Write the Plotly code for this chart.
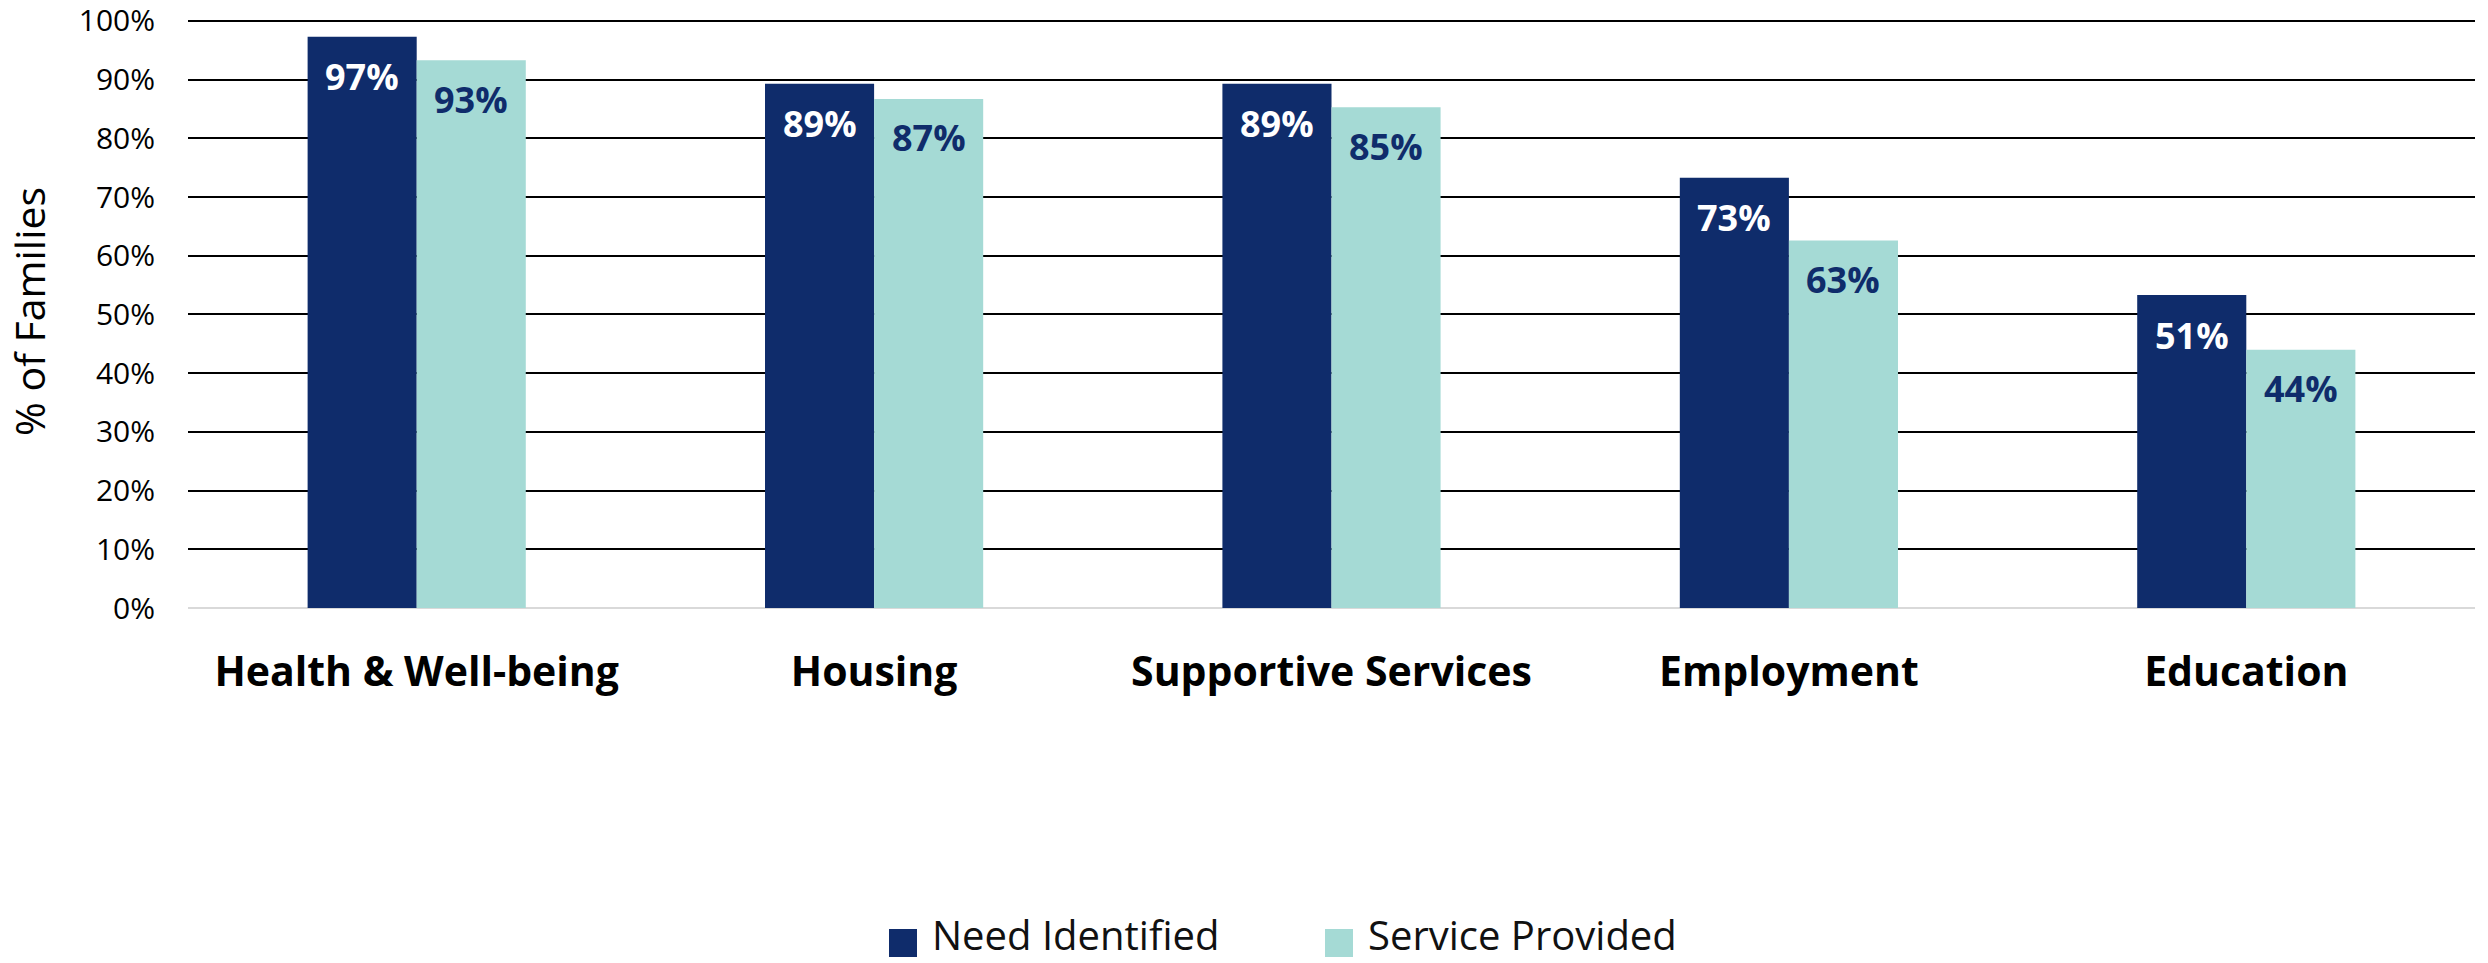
import plotly.graph_objects as go

categories = ["Health & Well-being", "Housing", "Supportive Services", "Employment", "Education"]
need_values = [97.3, 89.3, 89.3, 73.3, 53.3]
need_labels = ["97%", "89%", "89%", "73%", "51%"]
service_values = [93.3, 86.7, 85.3, 62.6, 44.0]
service_labels = ["93%", "87%", "85%", "63%", "44%"]
y_ticks = [0, 10, 20, 30, 40, 50, 60, 70, 80, 90, 100]
y_tick_labels = [f"{v}%" for v in y_ticks]

NAVY = "#0F2C6B"
TEAL = "#A5DAD5"
W, H = 2488, 963
ML, MR, MT, MB = 188, 13, 15, 355
Y_MAX = 101
BARGAP = 0.523
FONT = "Open Sans"

fig = go.Figure()
fig.add_trace(go.Bar(name="Need Identified", x=categories, y=need_values,
                     marker=dict(color=NAVY, line=dict(width=0)), showlegend=False))
fig.add_trace(go.Bar(name="Service Provided", x=categories, y=service_values,
                     marker=dict(color=TEAL, line=dict(width=0)), showlegend=False))

# data labels inside the bar ends
bw = (1 - BARGAP) / 2
annotations = []
for i in range(len(categories)):
    annotations.append(dict(x=i - bw / 2, y=need_values[i], xref="x", yref="y",
                            text=f"<b>{need_labels[i]}</b>", showarrow=False,
                            yanchor="middle", yshift=-40,
                            font=dict(family=FONT, size=36, color="white")))
    annotations.append(dict(x=i + bw / 2, y=service_values[i], xref="x", yref="y",
                            text=f"<b>{service_labels[i]}</b>", showarrow=False,
                            yanchor="middle", yshift=-39,
                            font=dict(family=FONT, size=36, color=NAVY)))

# manual legend (large square swatches)
pw = W - ML - MR
ph = H - MT - MB
def px_x(p):
    return (p - ML) / pw
def px_y(p):
    return (H - MB - p) / ph

shapes = []
for sx, tx, name, col in [(889, 930, "Need Identified", NAVY), (1325, 1366, "Service Provided", TEAL)]:
    shapes.append(dict(type="rect", xref="paper", yref="paper",
                       x0=px_x(sx), x1=px_x(sx + 28), y0=px_y(957), y1=px_y(929),
                       fillcolor=col, line=dict(width=0)))
    annotations.append(dict(x=px_x(tx), y=px_y(935), xref="paper", yref="paper",
                            text=name, showarrow=False, xanchor="left", yanchor="middle",
                            font=dict(family=FONT, size=40, color="#111111")))

fig.update_layout(
    width=W, height=H,
    margin=dict(l=ML, r=MR, t=MT, b=MB, autoexpand=False),
    paper_bgcolor="white", plot_bgcolor="white",
    barmode="group", bargap=BARGAP, bargroupgap=0,
    showlegend=False,
    annotations=annotations, shapes=shapes,
    font=dict(family=FONT, color="#000000"),
)
fig.update_xaxes(
    type="category", showgrid=False, showline=False, ticks="", automargin=False,
    tickfont=dict(family=FONT, size=41, color="#000000", weight="bold"),
    ticklabelstandoff=36,
)
fig.update_yaxes(
    range=[0, Y_MAX], tickmode="array", tickvals=y_ticks, ticktext=y_tick_labels,
    showgrid=True, gridcolor="#000000", gridwidth=2,
    zeroline=True, zerolinecolor="#D9D9D9", zerolinewidth=2,
    showline=False, ticks="", ticklabeloverflow="allow", automargin=False,
    tickfont=dict(family=FONT, size=30, color="#000000"),
    ticklabelstandoff=32,
    title=dict(text="% of Families", font=dict(family=FONT, size=41, color="#000000"), standoff=20),
)

fig.write_html("out.html", config={"displayModeBar": False},
               post_script="document.body.style.margin='0px';document.body.style.overflow='hidden';")
